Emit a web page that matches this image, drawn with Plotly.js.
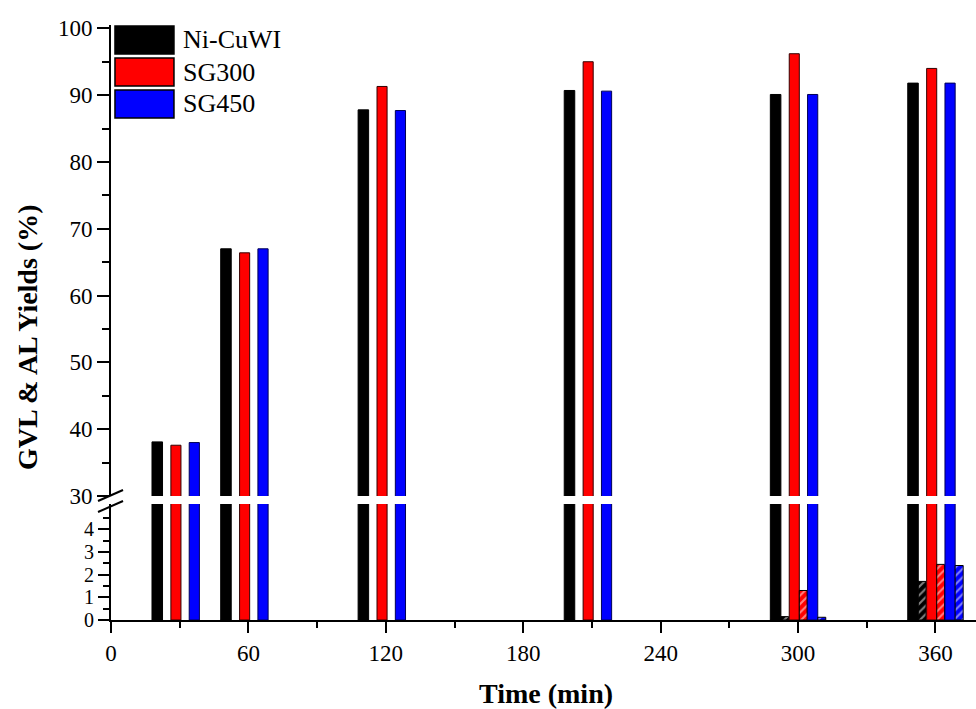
<!DOCTYPE html>
<html>
<head>
<meta charset="utf-8">
<script src="https://cdn.plot.ly/plotly-3.0.1.min.js"></script>
<style>html,body{margin:0;padding:0;background:#fff;}#chart{width:976px;height:709px;}</style>
</head>
<body>
<div id="chart"></div>
<script>
// ---- data ----
const times = [30, 60, 120, 210, 300, 360];
const seriesNames = ['Ni-CuWI', 'SG300', 'SG450'];
const gvlNiCuWI = [38.1, 67.0, 87.8, 90.7, 90.1, 91.8];
const gvlSG300  = [37.6, 66.4, 91.3, 95.0, 96.2, 94.0];
const gvlSG450  = [38.0, 67.0, 87.7, 90.6, 90.1, 91.8];
const alNiCuWI  = [null, null, null, null, 0.15, 1.7];
const alSG300   = [null, null, null, null, 1.3, 2.45];
const alSG450   = [null, null, null, null, 0.12, 2.4];
const xTickVals = [0, 60, 120, 180, 240, 300, 360];
const upperTickVals = [30, 40, 50, 60, 70, 80, 90, 100];
const lowerTickVals = [0, 1, 2, 3, 4];

// ---- styles ----
const colors = ['#000000', '#ff0000', '#0000ff'];
const edge = ['#000000', '#330000', '#000055'];
const solidOffset = [-12.1, -3.85, 4.15];
const solidWidth = [4.6, 4.4, 4.45];
const hatchOffset = [-7.5, 0.55, 8.6];
const hatchWidth = [3.4, 3.4, 3.5];
const gvl = [gvlNiCuWI, gvlSG300, gvlSG450];
const al = [alNiCuWI, alSG300, alSG450];

const traces = [];
for (let i = 0; i < 3; i++) {
  ['y2', 'y'].forEach(ax => {
    traces.push({
      type: 'bar', x: times, y: gvl[i], yaxis: ax, name: seriesNames[i],
      offset: solidOffset[i], width: solidWidth[i], showlegend: false,
      marker: {color: colors[i], line: {color: edge[i], width: 1}}
    });
  });
  traces.push({
    type: 'bar', x: times, y: al[i], yaxis: 'y', name: seriesNames[i] + ' (AL)',
    offset: hatchOffset[i], width: hatchWidth[i], showlegend: false,
    marker: {color: colors[i], line: {color: '#000000', width: 1},
      pattern: {shape: '/', fillmode: 'overlay', fgcolor: '#ffffff', size: 6, solidity: 0.35}}
  });
}

const F = 'Liberation Serif';
function axisCommon(size, extra) {
  return Object.assign({
    showgrid: false, zeroline: false, showline: true, linecolor: '#000', linewidth: 2,
    ticks: 'outside', tickcolor: '#000', tickwidth: 2,
    tickfont: {family: F, size: size, color: '#000'}, fixedrange: true
  }, extra);
}

const lowerTop = 0.195, upperBottom = 0.2084;

const shapes = [];
const annotations = [];
// break marks on y axis
[[0.2, 0.2185], [0.1815, 0.2]].forEach(p => {
  shapes.push({type: 'line', xref: 'paper', yref: 'paper', x0: -0.015, x1: 0.0139, y0: p[0], y1: p[1],
    line: {color: '#000', width: 2}});
});
// custom legend
const boxY = [[0.9983, 0.9513], [0.9445, 0.8975], [0.8908, 0.8437]];
for (let i = 0; i < 3; i++) {
  shapes.push({type: 'rect', xref: 'paper', yref: 'paper', x0: 0.0046, x1: 0.0728,
    y0: boxY[i][1], y1: boxY[i][0], fillcolor: colors[i], line: {color: '#000', width: 1.5}});
  annotations.push({xref: 'paper', yref: 'paper', x: 0.0809, y: (boxY[i][0] + boxY[i][1]) / 2,
    xanchor: 'left', yanchor: 'middle', showarrow: false, text: seriesNames[i],
    font: {family: F, size: 26, color: '#000'}});
}
// axis titles
annotations.push({xref: 'paper', yref: 'paper', x: 0.503, y: -0.1227, xanchor: 'center', yanchor: 'middle',
  showarrow: false, text: '<b>Time (min)</b>', font: {family: F, size: 28, color: '#000'}});
annotations.push({xref: 'paper', yref: 'paper', x: -0.0971, y: 0.4756, xanchor: 'center', yanchor: 'middle',
  textangle: -90, showarrow: false, text: '<b>GVL &amp; AL Yields (%)</b>', font: {family: F, size: 28, color: '#000'}});

const layout = {
  width: 976, height: 709,
  margin: {l: 111, r: 0, t: 25, b: 89},
  paper_bgcolor: '#fff', plot_bgcolor: '#fff',
  font: {family: F, size: 23, color: '#000'},
  barmode: 'overlay', showlegend: false,
  xaxis: axisCommon(23, {
    range: [0, 377.7], tickmode: 'array', tickvals: xTickVals, ticklen: 11,
    minor: {dtick: 30, tick0: 0, ticks: 'outside', ticklen: 6, tickcolor: '#000', tickwidth: 2},
    anchor: 'y'
  }),
  yaxis: axisCommon(20, {
    domain: [0, lowerTop], range: [0, 5.11], tickmode: 'array', tickvals: lowerTickVals, ticklen: 11,
    minor: {tickmode: 'array', tickvals: [0.5, 1.5, 2.5, 3.5, 4.5], ticks: 'outside', ticklen: 6, tickcolor: '#000', tickwidth: 2},
    anchor: 'x'
  }),
  yaxis2: axisCommon(23, {
    domain: [upperBottom, 1], range: [30, 100.5], tickmode: 'array', tickvals: upperTickVals, ticklen: 12,
    minor: {dtick: 5, tick0: 0, ticks: 'outside', ticklen: 7, tickcolor: '#000', tickwidth: 2},
    anchor: 'x'
  }),
  shapes: shapes,
  annotations: annotations
};

Plotly.newPlot('chart', traces, layout, {displayModeBar: false, staticPlot: true});
</script>
</body>
</html>
